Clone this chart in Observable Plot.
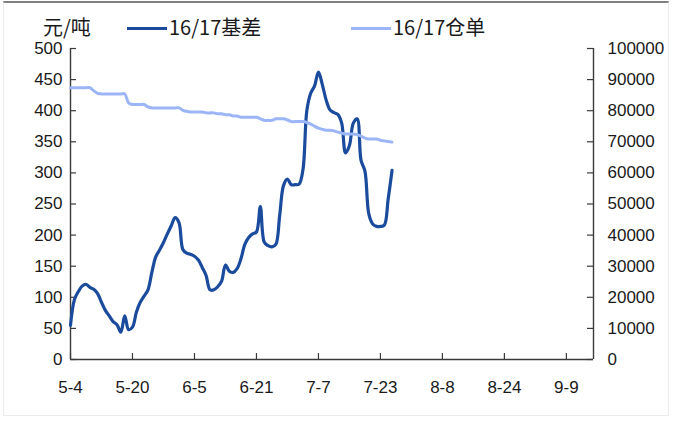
<!DOCTYPE html>
<html>
<head>
<meta charset="utf-8">
<script src="https://cdn.jsdelivr.net/npm/d3@7"></script>
<script src="https://cdn.jsdelivr.net/npm/@observablehq/plot@0.6"></script>
<style>
  html, body { margin: 0; padding: 0; background: #fff; }
  #chart { position: relative; width: 677px; height: 421px; overflow: hidden; }
  #chart svg { position: absolute; left: 0; top: 0; }
  #frame { position: absolute; left: 3px; top: 1px; width: 666px; height: 415px; box-sizing: border-box;
           border: 1px solid #ececec; border-top: 2px solid #808080; pointer-events: none; }
  .lg { position: absolute; top: 13px; font-family: "Noto Sans CJK SC", sans-serif; font-size: 20px;
        line-height: 28px; color: #1a1a1a; white-space: nowrap; }
  .sw { position: absolute; top: 27px; height: 3px; width: 40px; }
</style>
</head>
<body>
<div id="chart">
  <div id="frame"></div>
</div>
<script>
// Daily series, starting on the first trading day shown
const firstDay = "2017-05-04";

// 16/17 basis (yuan/ton)
const basis = [
  55, 96, 109, 118, 121, 116, 113, 106, 92, 79,
  70, 61, 56, 44, 70, 48, 52, 76, 92, 102,
  112, 140, 165, 176, 188, 202, 215, 228, 220, 177,
  171, 169, 166, 160, 148, 135, 112, 112, 117, 126,
  152, 142, 140, 146, 162, 185, 196, 202, 205, 246,
  189, 183, 181, 185, 232, 280, 290, 281, 281, 282,
  305, 400, 428, 440, 462, 442, 417, 401, 397, 394,
  380, 332, 344, 380, 387, 320, 303, 234, 218, 214,
  214, 216, 258, 304
];

// 16/17 warehouse receipts
const receipts = [
  87400, 87400, 87400, 87400, 87400, 87400, 86400, 85600, 85400, 85400,
  85400, 85400, 85400, 85400, 85400, 82500, 82000, 82000, 82000, 82000,
  81200, 80900, 80900, 80900, 80900, 80900, 80900, 80900, 80900, 80100,
  79800, 79600, 79600, 79600, 79600, 79300, 79300, 79300, 79000, 79000,
  78700, 78700, 78300, 78300, 77900, 77900, 77900, 77900, 77900, 77400,
  76900, 76900, 76900, 77400, 77400, 77400, 77000, 76500, 76500, 76500,
  76500, 76200, 75700, 75000, 74400, 74000, 73700, 73700, 73500, 73100,
  72800, 72500, 72500, 72500, 72300, 71800, 71200, 70900, 70900, 70900,
  70500, 70300, 70100, 69900
];

const xTickDates = ["2017-05-04", "2017-05-20", "2017-06-05", "2017-06-21", "2017-07-07",
                    "2017-07-23", "2017-08-08", "2017-08-24", "2017-09-09"];
const xDomain = ["2017-05-04", "2017-09-16"];
const basisTicks = [0, 50, 100, 150, 200, 250, 300, 350, 400, 450, 500];
const receiptTicks = [0, 10000, 20000, 30000, 40000, 50000, 60000, 70000, 80000, 90000, 100000];

const unitLabel = "元/吨";
const basisName = "16/17基差";
const receiptName = "16/17仓单";
const basisColor = "#1b4b9c";
const receiptColor = "#9bb5f6";

// receipts share the frame with the basis: 100000 on the right sits at 500 on the left
const ratio = receiptTicks[receiptTicks.length - 1] / basisTicks[basisTicks.length - 1];

const start = new Date(firstDay);
const basisRows = basis.map((v, i) => ({date: d3.utcDay.offset(start, i), value: v}));
const receiptRows = receipts.map((v, i) => ({date: d3.utcDay.offset(start, i), value: v / ratio}));
const xTicks = xTickDates.map(s => new Date(s));
const [x0, x1] = xDomain.map(s => new Date(s));

const W = 677, H = 421;
const mL = 70, mR = 84, mT = 48, mB = 62;
const innerW = W - mL - mR, innerH = H - mT - mB;
const axisColor = "#3a3a3a";
const tickLen = 6;

const chart = Plot.plot({
  width: W, height: H,
  marginLeft: mL, marginRight: mR, marginTop: mT, marginBottom: mB,
  x: {type: "utc", domain: [x0, x1]},
  y: {domain: [basisTicks[0], basisTicks[basisTicks.length - 1]]},
  style: {fontFamily: "'Liberation Sans', Arial, sans-serif", fontSize: "17px", color: "#1a1a1a",
          background: "transparent", overflow: "visible"},
  marks: [
    // axis lines
    Plot.ruleX([x0], {stroke: axisColor, strokeWidth: 1.4}),
    Plot.ruleX([x1], {stroke: axisColor, strokeWidth: 1.4}),
    Plot.ruleY([0], {stroke: axisColor, strokeWidth: 1.4}),
    // inward tick marks
    Plot.tickY(basisTicks, {y: d => d, insetRight: innerW - tickLen, stroke: axisColor, strokeWidth: 1.2}),
    Plot.tickY(receiptTicks, {y: d => d / ratio, insetLeft: innerW - tickLen, stroke: axisColor, strokeWidth: 1.2}),
    Plot.tickX(xTicks, {x: d => d, insetTop: innerH - tickLen, stroke: axisColor, strokeWidth: 1.2}),
    // tick labels
    Plot.axisY({anchor: "left", ticks: basisTicks, tickSize: 0, tickPadding: 8, label: null}),
    Plot.axisY({anchor: "right", ticks: receiptTicks.map(v => v / ratio), tickSize: 0, tickPadding: 14,
                tickFormat: d => String(Math.round(d * ratio)), label: null}),
    Plot.axisX({ticks: xTicks, tickSize: 0, tickPadding: 21, tickFormat: d3.utcFormat("%-m-%-d"), label: null}),
    // series
    Plot.line(basisRows, {x: "date", y: "value", stroke: basisColor, strokeWidth: 3.2, curve: "catmull-rom"}),
    Plot.line(receiptRows, {x: "date", y: "value", stroke: receiptColor, strokeWidth: 3, curve: "catmull-rom"})
  ]
});

const box = document.getElementById("chart");
box.insertBefore(chart, box.firstChild);

// legend above the frame
function addText(left, text) {
  const el = document.createElement("div");
  el.className = "lg";
  el.style.left = left + "px";
  el.textContent = text;
  box.appendChild(el);
}
function addSwatch(left, color) {
  const el = document.createElement("div");
  el.className = "sw";
  el.style.left = left + "px";
  el.style.background = color;
  box.appendChild(el);
}
addText(43, unitLabel);
addSwatch(127, basisColor);
addText(169, basisName);
addSwatch(351, receiptColor);
addText(393, receiptName);
</script>
</body>
</html>
